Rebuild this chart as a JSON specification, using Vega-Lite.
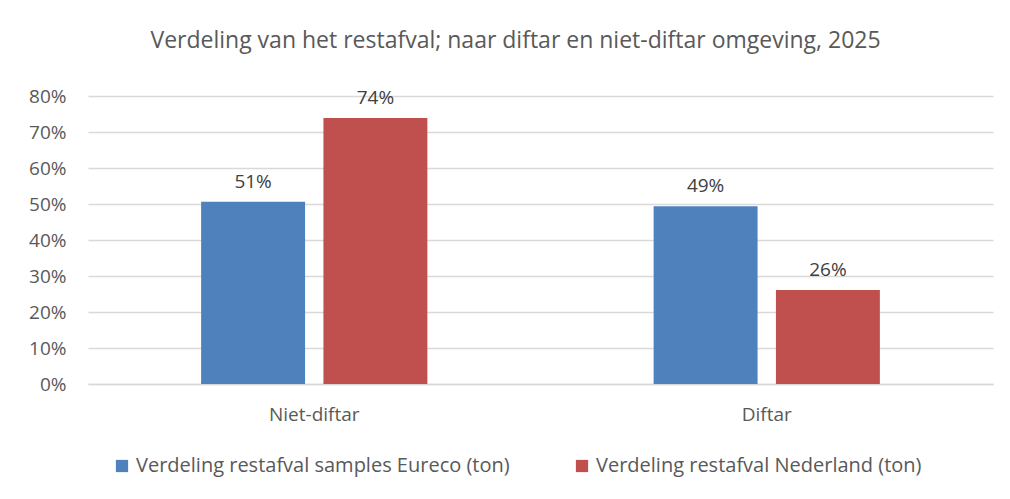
{
  "$schema": "https://vega.github.io/schema/vega-lite/v6.json",
  "width": 905,
  "height": 288,
  "autosize": {"type": "none"},
  "padding": {"left": 88, "top": 96, "right": 17, "bottom": 115},
  "background": "white",
  "config": {
    "font": "Open Sans",
    "view": {"stroke": null},
    "axis": {"labelFont": "Open Sans", "labelColor": "#595959", "labelFontSize": 19}
  },
  "title": {
    "text": "Verdeling van het restafval; naar diftar en niet-diftar omgeving, 2025",
    "font": "Open Sans",
    "fontSize": 23,
    "fontWeight": "normal",
    "color": "#595959",
    "anchor": "middle",
    "dx": -25,
    "offset": 34
  },
  "data": {
    "values": [
      {"omgeving": "Niet-diftar", "reeks": "Verdeling restafval samples Eureco (ton)", "waarde": 0.506},
      {"omgeving": "Niet-diftar", "reeks": "Verdeling restafval Nederland (ton)", "waarde": 0.739},
      {"omgeving": "Diftar", "reeks": "Verdeling restafval samples Eureco (ton)", "waarde": 0.494},
      {"omgeving": "Diftar", "reeks": "Verdeling restafval Nederland (ton)", "waarde": 0.261}
    ]
  },
  "encoding": {
    "x": {
      "field": "omgeving",
      "type": "nominal",
      "sort": ["Niet-diftar", "Diftar"],
      "scale": {"paddingInner": 0.5, "paddingOuter": 0.25},
      "axis": {"title": null, "labelAngle": 0, "ticks": false, "domainColor": "#D9D9D9", "domainWidth": 1.3, "labelPadding": 21}
    },
    "xOffset": {
      "field": "reeks",
      "type": "nominal",
      "sort": ["Verdeling restafval samples Eureco (ton)", "Verdeling restafval Nederland (ton)"],
      "scale": {"paddingInner": 0.15, "paddingOuter": 0}
    },
    "y": {
      "field": "waarde",
      "type": "quantitative",
      "scale": {"domain": [0, 0.8]},
      "axis": {"title": null, "format": ".0%", "values": [0, 0.1, 0.2, 0.3, 0.4, 0.5, 0.6, 0.7, 0.8], "labelOverlap": false, "ticks": false, "domain": false, "gridColor": "#D9D9D9", "gridWidth": 1.3, "labelPadding": 22}
    }
  },
  "layer": [
    {
      "mark": {"type": "bar"},
      "encoding": {
        "color": {
          "field": "reeks",
          "type": "nominal",
          "sort": ["Verdeling restafval samples Eureco (ton)", "Verdeling restafval Nederland (ton)"],
          "scale": {"range": ["#4F81BD", "#C0504D"]},
          "legend": {
            "title": null,
            "orient": "none",
            "direction": "horizontal",
            "legendX": 24,
            "legendY": 360,
            "symbolType": "square",
            "symbolSize": 150,
            "symbolStrokeWidth": 0,
            "labelFont": "Open Sans",
            "labelFontSize": 20,
            "labelColor": "#595959",
            "labelLimit": 600,
            "labelOffset": 4,
            "columnPadding": 62
          }
        }
      }
    },
    {
      "mark": {"type": "text", "baseline": "bottom", "dy": -10, "fontSize": 19, "color": "#404040", "font": "Open Sans"},
      "encoding": {
        "text": {"field": "waarde", "type": "quantitative", "format": ".0%"}
      }
    }
  ]
}
